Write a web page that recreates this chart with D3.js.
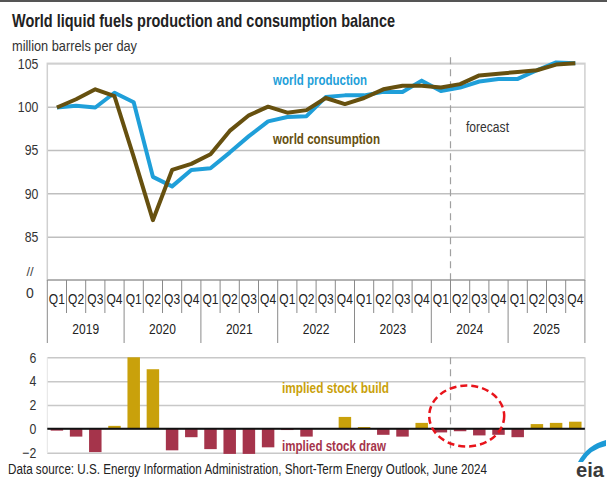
<!DOCTYPE html>
<html><head><meta charset="utf-8">
<script src="https://cdn.jsdelivr.net/npm/d3@7"></script>
<style>
body{margin:0;background:#fff;}
svg{display:block;font-family:"Liberation Sans",Arial,sans-serif;}
</style>
</head><body>
<svg id="c" width="607" height="480"></svg>
<script>
// ---------------- data ----------------
const years = ["2019","2020","2021","2022","2023","2024","2025"];
const quarterNames = ["Q1","Q2","Q3","Q4"];
const production = [99.9,100.1,99.9,101.6, 100.5,91.9,90.8,92.7, 92.9,94.7,96.6,98.3,
                    98.8,98.9,101.1,101.3, 101.3,101.7,101.7,103.0, 101.8,102.2,102.9,103.2,
                    103.2,104.2,105.1,105.0];
const consumption = [99.9,100.85,102.0,101.2, 94.2,86.9,92.7,93.4, 94.5,97.2,99.0,100.0,
                     99.3,99.6,101.0,100.3, 101.0,102.0,102.4,102.4, 102.2,102.6,103.6,103.8,
                     104.0,104.2,104.85,105.0];
const balance = [-0.15,-0.65,-1.95,0.25, 6.0,5.0,-1.8,-0.7, -1.7,-2.1,-2.1,-1.55,
                 -0.1,-0.65,0.0,1.0, 0.15,-0.5,-0.65,0.5, -0.3,-0.2,-0.55,-0.5,
                 -0.7,0.4,0.5,0.6];
const topTicks = [85,90,95,100,105];
const balanceTicks = [-2,0,2,4,6];
const forecastStart = "2024 Q2";

const periods = years.flatMap(y => quarterNames.map(q => y + " " + q));

// ---------------- layout ----------------
const svg = d3.select("#c");
const L = 47.3, R = 584.9;
const SX = 0.82; // narrow font emulation
const x = d3.scaleBand().domain(periods).range([L, R]);
const xb = d3.scaleBand().domain(periods).range([L, R]).paddingInner(0.35).paddingOuter(0.175);
const yTop = d3.scaleLinear().domain([80, 105]).range([280, 63.3]);
const yBal = d3.scaleLinear().domain([-2, 6]).range([452.7, 357.3]);
const cx = p => x(p) + x.bandwidth() / 2;

const colProd = "#1f9fd9", colCons = "#66500f", colBuild = "#c9a10b", colDraw = "#a5344b";

function txt(xp, yp, s, o = {}) {
  const t = svg.append("text")
    .attr("transform", `translate(${xp},${yp}) scale(${o.sx ?? SX},1)`)
    .attr("font-size", o.size || 14)
    .attr("font-weight", o.weight || "normal")
    .attr("fill", o.fill || "#222")
    .attr("text-anchor", o.anchor || "start")
    .text(s);
  if (o.len) t.attr("textLength", o.len / (o.sx ?? SX)).attr("lengthAdjust", "spacingAndGlyphs");
  return t;
}

// top border
svg.append("line").attr("x1", 0).attr("x2", 607).attr("y1", 1).attr("y2", 1)
  .attr("stroke", "#555").attr("stroke-width", 2);

// title
txt(12, 27, "World liquid fuels production and consumption balance", {size: 18, weight: "bold", fill: "#222", len: 383});
txt(12, 51, "million barrels per day", {size: 15, fill: "#333", len: 125});

// ---------------- top chart ----------------
const gTop = svg.append("g").attr("transform", `translate(${L},0)`);
gTop.call(d3.axisLeft(yTop).tickValues(topTicks).tickSize(-(R - L)).tickFormat(d3.format("d")))
  .call(g => g.select(".domain").remove())
  .call(g => g.selectAll(".tick line").attr("stroke", "#bfbfbf").attr("stroke-width", 1.5))
  .call(g => g.selectAll(".tick text").attr("font-size", 15).attr("fill", "#333")
      .attr("font-family", "Liberation Sans, Arial, sans-serif")
      .attr("x", -9 / SX).attr("transform", `scale(${SX},1)`));

// plot border
svg.append("rect").attr("x", L).attr("y", yTop(105)).attr("width", R - L).attr("height", yTop(80) - yTop(105))
  .attr("fill", "none").attr("stroke", "#d0d0d0").attr("stroke-width", 1.5);

txt(30, 276, "//", {size: 13, fill: "#444", anchor: "middle", sx: 1});
txt(30, 298, "0", {size: 14, fill: "#333", anchor: "middle", sx: 1});

// forecast dashed line
const xf = x(forecastStart);
svg.append("line").attr("x1", xf).attr("x2", xf).attr("y1", yTop(105) - 6).attr("y2", yTop(80))
  .attr("stroke", "#a0a0a0").attr("stroke-width", 1.2).attr("stroke-dasharray", "7,5");
txt(466, 132, "forecast", {size: 14, fill: "#333", len: 43});

// x axis box
const axTop = yTop(80);
svg.append("line").attr("x1", L).attr("x2", R).attr("y1", axTop).attr("y2", axTop)
  .attr("stroke", "#8a8a8a").attr("stroke-width", 1.2);
periods.forEach((p, i) => {
  const isYear = i % 4 === 0;
  svg.append("line").attr("x1", x(p)).attr("x2", x(p)).attr("y1", axTop).attr("y2", isYear ? 343 : 313)
    .attr("stroke", "#8a8a8a").attr("stroke-width", 1);
  txt(cx(p), 304, p.split(" ")[1], {size: 14, fill: "#222", anchor: "middle", sx: 0.86});
});
svg.append("line").attr("x1", R).attr("x2", R).attr("y1", axTop).attr("y2", 343)
  .attr("stroke", "#8a8a8a").attr("stroke-width", 1);
years.forEach(yr => {
  const a = x(yr + " Q1"), b = x(yr + " Q4") + x.bandwidth();
  txt((a + b) / 2, 334, yr, {size: 14, fill: "#222", anchor: "middle", sx: 0.86});
});

// lines
const line = d3.line().x((d, i) => cx(periods[i])).y(d => yTop(d));
svg.append("path").datum(production).attr("d", line).attr("fill", "none")
  .attr("stroke", colProd).attr("stroke-width", 4).attr("stroke-linejoin", "round");
svg.append("path").datum(consumption).attr("d", line).attr("fill", "none")
  .attr("stroke", colCons).attr("stroke-width", 4).attr("stroke-linejoin", "round");

txt(273, 85, "world production", {size: 15, weight: "bold", fill: colProd, len: 94});
txt(273, 144, "world consumption", {size: 15, weight: "bold", fill: colCons, len: 107});

// ---------------- bottom chart ----------------
const gBal = svg.append("g").attr("transform", `translate(${L},0)`);
gBal.call(d3.axisLeft(yBal).tickValues(balanceTicks).tickSize(-(R - L)).tickFormat(d3.format("d")))
  .call(g => g.select(".domain").remove())
  .call(g => g.selectAll(".tick line").attr("stroke", "#c8c8c8").attr("stroke-width", 1.5))
  .call(g => g.selectAll(".tick text").attr("font-size", 15).attr("fill", "#333")
      .attr("font-family", "Liberation Sans, Arial, sans-serif")
      .attr("x", -11 / SX).attr("transform", `scale(${SX},1)`));
svg.append("line").attr("x1", R).attr("x2", R).attr("y1", yBal(6)).attr("y2", yBal(-2))
  .attr("stroke", "#d0d0d0").attr("stroke-width", 1.5);
svg.append("line").attr("x1", L).attr("x2", L).attr("y1", yBal(6)).attr("y2", yBal(-2))
  .attr("stroke", "#e4e4e4").attr("stroke-width", 1);

svg.append("line").attr("x1", xf).attr("x2", xf).attr("y1", yBal(6)).attr("y2", yBal(-2))
  .attr("stroke", "#a0a0a0").attr("stroke-width", 1.2).attr("stroke-dasharray", "7,5");

svg.selectAll(".bar").data(balance).enter().append("rect")
  .attr("x", (d, i) => xb(periods[i]))
  .attr("width", xb.bandwidth())
  .attr("y", d => yBal(Math.max(0, d)))
  .attr("height", d => Math.abs(yBal(d) - yBal(0)))
  .attr("fill", d => d >= 0 ? colBuild : colDraw);

svg.append("line").attr("x1", L).attr("x2", R).attr("y1", yBal(0)).attr("y2", yBal(0))
  .attr("stroke", "#111").attr("stroke-width", 2);

txt(282, 393, "implied stock  build", {size: 14, weight: "bold", fill: colBuild, len: 107});
txt(282, 451, "implied stock draw", {size: 14, weight: "bold", fill: colDraw, len: 104});

// red dashed ellipse
svg.append("ellipse").attr("cx", 466.7).attr("cy", 416).attr("rx", 37.5).attr("ry", 30.5)
  .attr("fill", "none").attr("stroke", "#e8141b").attr("stroke-width", 2.5).attr("stroke-dasharray", "7,4");

// source
txt(8, 474, "Data source: U.S. Energy Information Administration, Short-Term Energy Outlook, June 2024",
  {size: 15, fill: "#222", len: 479});

// eia logo
svg.append("path").attr("d", "M578,462 Q587,445 606,440 L606,446 Q591,449 583,462 Z").attr("fill", "#1c9ad6");
txt(576, 477, "eia", {size: 20, weight: "bold", fill: "#3a3a3a", sx: 1, len: 28});
</script>
</body></html>
